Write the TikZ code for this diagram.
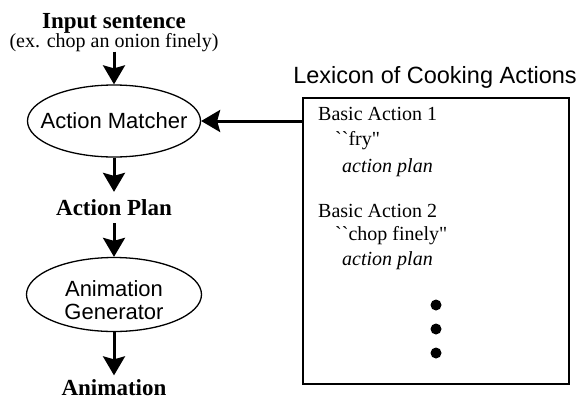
\documentclass[tikz,border=0pt]{standalone}
\usepackage{fontspec}
\setmainfont{Liberation Serif}[Ligatures=TeXOff]
\setsansfont{Liberation Sans}
\usetikzlibrary{arrows.meta,shapes.geometric}

\begin{document}
\begin{tikzpicture}[x=1pt,y=-1pt,
  flow/.style={line width=3pt,-{Stealth[length=19pt,width=22pt,inset=3pt]}},
  oval/.style={ellipse,draw,line width=1.3pt,inner sep=0pt},
  ovaltext/.style={font=\sffamily\fontsize{22}{23}\selectfont,inner sep=0pt,align=center},
  heading/.style={font=\bfseries\fontsize{23}{26}\selectfont,inner sep=0pt,anchor=base},
  entry/.style={font=\fontsize{20}{24}\selectfont,inner sep=0pt,anchor=base west},
  planentry/.style={entry,font=\itshape\fontsize{20}{24}\selectfont},
  dot/.style={circle,fill,inner sep=0pt,minimum size=11pt}]

\useasboundingbox (0,0) rectangle (577,399);

% processing pipeline
\node[heading] (input) at (114,28) {Input sentence};
\node[font=\fontsize{20}{24}\selectfont,inner sep=0pt,anchor=base] (example) at (114,47) {(ex. chop an onion finely)};
\node[oval,minimum width=173pt,minimum height=72pt] (matcher) at (114,121) {};
\node[ovaltext] at (matcher.center) {Action Matcher};
\node[heading] (actplan) at (114,215) {Action Plan};
\node[oval,minimum width=175pt,minimum height=74pt] (generator) at (114,294.5) {};
\node[ovaltext] (gentext) at (114,300) {Animation\\Generator};
\node[heading] (anim) at (114,395) {Animation};

% lexicon
\node[font=\sffamily\fontsize{23.5}{26}\selectfont,inner sep=0pt,anchor=base] (lextitle) at (435,83) {Lexicon of Cooking Actions};
\node[draw,line width=1.8pt,minimum width=266pt,minimum height=286pt,inner sep=0pt,anchor=north west] (lexicon) at (302,97) {};
\node[entry] (basic1) at (318,120) {Basic Action 1};
\node[entry] (name1) at (335,145) {``fry"};
\node[planentry] (plan1) at (342,172) {action plan};
\node[entry] (basic2) at (318,217) {Basic Action 2};
\node[entry] (name2) at (335,240) {``chop finely"};
\node[planentry] (plan2) at (342,265) {action plan};
\node[dot] (dot1) at (436,305) {};
\node[dot] (dot2) at (436,329) {};
\node[dot] (dot3) at (436,353) {};

% connectors
\draw[flow] (example.south) -- (matcher.north);
\draw[flow,shorten >=7pt] (matcher.south) -- (actplan.north);
\draw[flow,shorten <=8pt] (actplan.south) -- (generator.north);
\draw[flow,shorten >=3.5pt] (generator.south) -- (anim.north);
\draw[flow] (lexicon.west |- matcher.east) -- (matcher.east);
\end{tikzpicture}
\end{document}
